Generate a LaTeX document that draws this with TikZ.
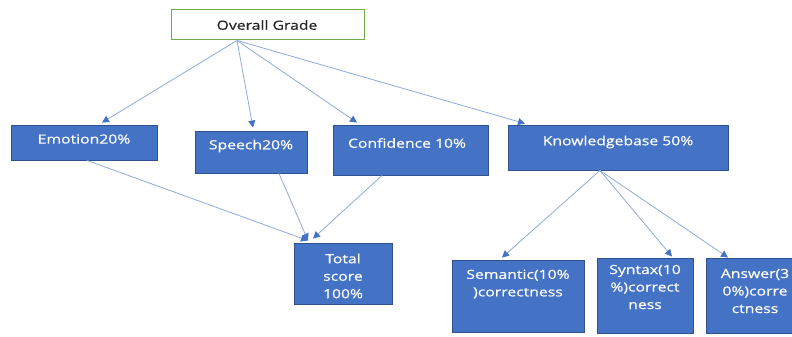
\documentclass[tikz,border=0pt]{standalone}
\usepackage{fontspec}
\setmainfont[FakeStretch=1.25,FakeBold=0.6]{Open Sans}
\usetikzlibrary{arrows.meta}
\definecolor{boxblue}{HTML}{4472C4}
\definecolor{boxedge}{HTML}{2F528F}
\definecolor{lineblue}{HTML}{8FAADC}
\definecolor{tipblue}{HTML}{4472C4}
\definecolor{ogreen}{HTML}{70AD47}
\definecolor{darktext}{HTML}{262626}
\tikzset{
  bluebox/.style={draw=boxedge, fill=boxblue, line width=0.9pt, inner sep=0pt},
  topbox/.style={draw=ogreen, fill=white, line width=1pt, inner sep=0pt},
  boxtext/.style={text=white, font=\fontsize{12.6}{17.5}\selectfont, align=center, inner sep=0pt},
  conn/.style={draw=lineblue, line width=0.8pt, -{Triangle[length=7pt,width=7pt,color=tipblue]}},
}
\begin{document}
\begin{tikzpicture}[x=1pt,y=-1pt]
\useasboundingbox (0,0) rectangle (792,337);
% boxes
\node[topbox, minimum width=193pt, minimum height=30pt] (og) at (267.5,25) {};
\node[bluebox, minimum width=146pt, minimum height=35pt] (emo) at (84,142.5) {};
\node[bluebox, minimum width=112pt, minimum height=42pt] (spe) at (251,152) {};
\node[bluebox, minimum width=155pt, minimum height=50pt] (con) at (410.5,150) {};
\node[bluebox, minimum width=220pt, minimum height=45pt] (kno) at (618,147.5) {};
\node[bluebox, minimum width=98pt, minimum height=61pt] (tot) at (343,273.5) {};
\node[bluebox, minimum width=132pt, minimum height=72pt] (sem) at (518,296) {};
\node[bluebox, minimum width=96pt, minimum height=75pt] (syn) at (645,295.5) {};
\node[bluebox, minimum width=98pt, minimum height=75pt] (ans) at (755,295.5) {};
% texts
\node[boxtext, text=darktext] (ogt) at (267,25) {Overall Grade};
\node[boxtext] (emot) at (84,139) {Emotion20\%};
\node[boxtext] (spet) at (251,146) {Speech20\%};
\node[boxtext] (cont) at (407,143) {Confidence 10\%};
\node[boxtext] (knot) at (618,142) {Knowledgebase 50\%};
\node[boxtext] (tott) at (343,276) {Total\\score\\100\%};
\node[boxtext] (semt) at (518,284) {Semantic(10\%\\)correctness};
\node[boxtext] (synt) at (645,287) {Syntax(10\\\%)correct\\ness};
\node[boxtext] (anst) at (755,291) {Answer(3\\0\%)corre\\ctness};
% connectors
\draw[conn] ([xshift=-30.5pt]og.south) -- ([xshift=18pt,yshift=2pt]emo.north);
\draw[conn] ([xshift=-30.5pt]og.south) -- ([xshift=2pt,yshift=3pt]spe.north);
\draw[conn] ([xshift=-30.5pt]og.south) -- ([xshift=-53.5pt,yshift=2pt]con.north);
\draw[conn] ([xshift=-30.5pt]og.south) -- ([xshift=-93pt,yshift=1pt]kno.north);
\draw[conn] ([xshift=3pt]emo.south) -- ([xshift=-35pt,yshift=2pt]tot.north);
\draw[conn] ([xshift=28pt]spe.south) -- ([xshift=-35pt,yshift=2pt]tot.north);
\draw[conn] ([xshift=-28.5pt]con.south) -- ([xshift=-30pt,yshift=4pt]tot.north);
\draw[conn] ([xshift=-18pt]kno.south) -- ([xshift=-16pt,yshift=2pt]sem.north);
\draw[conn] ([xshift=-18pt]kno.south) -- ([xshift=27pt,yshift=1pt]syn.north);
\draw[conn] ([xshift=-18pt]kno.south) -- ([xshift=-27pt]ans.north);
\end{tikzpicture}
\end{document}
